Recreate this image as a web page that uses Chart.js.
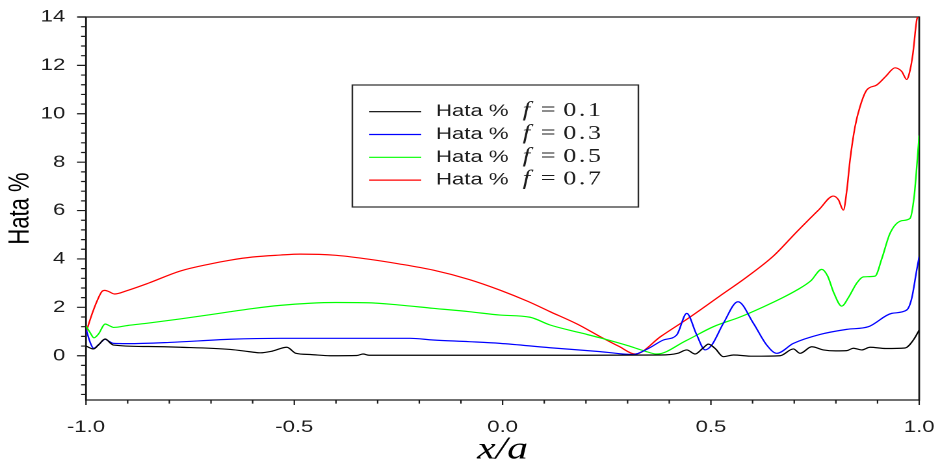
<!DOCTYPE html>
<html>
<head>
<meta charset="utf-8">
<script src="https://cdn.jsdelivr.net/npm/chart.js@4.4.1/dist/chart.umd.min.js"></script>
<style>
  html, body { margin: 0; padding: 0; background: #fff; }
</style>
</head>
<body>
<!-- the drawing surface is 723 px wide and shown at 940 px, so every glyph comes out wide -->
<canvas id="chart" width="723" height="466" style="display:block;width:940px;height:466px"></canvas>
<script>
// Hata % for f = 0.1
const xF01 = [-1.0, -0.982, -0.97, -0.954, -0.94, -0.934, -0.85, -0.774, -0.654, -0.6, -0.582, -0.553, -0.518,
  -0.496, -0.462, -0.414, -0.35, -0.335, -0.32, -0.2, 0.0, 0.2, 0.38, 0.42, 0.442, 0.462, 0.48, 0.494, 0.51,
  0.53, 0.554, 0.6, 0.666, 0.698, 0.714, 0.742, 0.77, 0.8, 0.826, 0.842, 0.862, 0.882, 0.92, 0.966, 0.986, 1.0];
const yF01 = [0.40, 0.28, 0.45, 0.69, 0.50, 0.44, 0.38, 0.35, 0.26, 0.15, 0.12, 0.19, 0.35,
  0.10, 0.05, 0.00, 0.01, 0.07, 0.02, 0.02, 0.02, 0.02, 0.03, 0.10, 0.24, 0.07, 0.30, 0.48, 0.30,
  -0.04, 0.03, -0.02, 0.00, 0.28, 0.10, 0.37, 0.24, 0.20, 0.21, 0.31, 0.24, 0.35, 0.30, 0.32, 0.65, 1.06];

// Hata % for f = 0.3
const xF03 = [-1.0, -0.99, -0.982, -0.97, -0.954, -0.945, -0.934, -0.9, -0.8, -0.654, -0.534, -0.4, -0.222,
  -0.167, -0.08, -0.006, 0.114, 0.234, 0.313, 0.35, 0.386, 0.418, 0.442, 0.465, 0.486, 0.502, 0.53, 0.565,
  0.602, 0.634, 0.658, 0.698, 0.762, 0.826, 0.878, 0.934, 0.97, 0.982, 0.994, 1.0];
const yF03 = [1.10, 0.55, 0.31, 0.45, 0.68, 0.60, 0.51, 0.50, 0.55, 0.68, 0.72, 0.72, 0.72,
  0.65, 0.58, 0.51, 0.33, 0.17, 0.05, 0.30, 0.65, 0.86, 1.75, 0.90, 0.24, 0.44, 1.34, 2.23,
  1.34, 0.44, 0.10, 0.51, 0.88, 1.09, 1.20, 1.75, 1.89, 2.37, 3.54, 4.09];

// Hata % for f = 0.5
const xF05 = [-1.0, -0.99, -0.981, -0.97, -0.954, -0.945, -0.934, -0.9, -0.85, -0.774, -0.7, -0.654, -0.6,
  -0.534, -0.462, -0.4, -0.326, -0.25, -0.167, -0.08, -0.006, 0.066, 0.114, 0.186, 0.234, 0.3, 0.34, 0.37,
  0.44, 0.506, 0.57, 0.626, 0.67, 0.706, 0.74, 0.766, 0.78, 0.795, 0.814, 0.83, 0.85, 0.866, 0.894, 0.91,
  0.93, 0.958, 0.978, 0.988, 0.995, 1.0];
const yF05 = [1.23, 0.95, 0.74, 0.90, 1.31, 1.25, 1.17, 1.25, 1.35, 1.52, 1.70, 1.82, 1.95,
  2.08, 2.17, 2.20, 2.19, 2.10, 1.96, 1.82, 1.68, 1.59, 1.27, 0.95, 0.74, 0.42, 0.20, 0.07,
  0.62, 1.20, 1.60, 2.02, 2.38, 2.71, 3.10, 3.57, 3.30, 2.60, 2.05, 2.40, 3.00, 3.26, 3.29, 4.00,
  5.06, 5.58, 5.68, 6.60, 8.00, 9.10];

// Hata % for f = 0.7
const xF07 = [-1.0, -0.99, -0.975, -0.962, -0.955, -0.945, -0.932, -0.9, -0.85, -0.774, -0.7, -0.654, -0.6,
  -0.534, -0.486, -0.4, -0.326, -0.25, -0.167, -0.08, -0.006, 0.06, 0.114, 0.18, 0.234, 0.28, 0.318,
  0.38, 0.45, 0.52, 0.586, 0.65, 0.706, 0.76, 0.794, 0.806, 0.818, 0.826, 0.834, 0.846, 0.858, 0.874,
  0.898, 0.92, 0.942, 0.958, 0.97, 0.978, 0.985, 0.994, 1.0];
const yF07 = [0.95, 1.50, 2.20, 2.65, 2.70, 2.65, 2.55, 2.70, 3.00, 3.50, 3.80, 3.95, 4.08,
  4.16, 4.20, 4.15, 4.00, 3.80, 3.54, 3.15, 2.71, 2.25, 1.82, 1.30, 0.79, 0.38, 0.07,
  0.80, 1.60, 2.45, 3.25, 4.12, 5.12, 6.05, 6.60, 6.45, 6.02, 6.80, 8.09, 9.47, 10.30, 10.98,
  11.19, 11.55, 11.90, 11.75, 11.42, 11.80, 12.50, 13.87, 14.10];

const fValues = ['0.1', '0.3', '0.5', '0.7'];
const lineColors = ['#000000', '#0000ff', '#00ff00', '#ff0000'];
const xLabelled = [-1, -0.5, 0, 0.5, 1];
const yLabelled = [0, 2, 4, 6, 8, 10, 12, 14];

const series = [[xF01, yF01], [xF03, yF03], [xF05, yF05], [xF07, yF07]];

const AXIS_COLOR = '#1a1a1a';
const TEXT_COLOR = '#1c1c1c';

// frame round the plot area plus the tick marks (outside ticks, longer on labelled y values)
const frameAndTicks = {
  id: 'frameAndTicks',
  beforeDatasetsDraw(chart) {
    const { ctx, chartArea: a, scales } = chart;
    ctx.save();
    ctx.strokeStyle = AXIS_COLOR;

    ctx.lineWidth = 1.3;
    ctx.beginPath();
    ctx.moveTo(a.left - 6, a.top); ctx.lineTo(a.right, a.top);
    ctx.moveTo(a.left, a.bottom); ctx.lineTo(a.right, a.bottom);
    ctx.stroke();
    ctx.lineWidth = 1.4;
    ctx.beginPath();
    ctx.moveTo(a.left, a.top); ctx.lineTo(a.left, a.bottom + 0.6);
    ctx.moveTo(a.right, a.top - 0.6); ctx.lineTo(a.right, a.bottom + 0.6);
    ctx.stroke();

    ctx.lineWidth = 1.2;
    ctx.beginPath();
    scales.y.ticks.forEach(t => {
      const py = scales.y.getPixelForValue(t.value);
      const len = yLabelled.includes(t.value) ? 7 : 3.8;
      ctx.moveTo(a.left - len, py); ctx.lineTo(a.left, py);
    });
    ctx.stroke();
    ctx.lineWidth = 1.1;
    ctx.beginPath();
    scales.x.ticks.forEach(t => {
      const px = scales.x.getPixelForValue(t.value);
      const len = xLabelled.includes(t.value) ? 5 : 3.6;
      ctx.moveTo(px, a.bottom); ctx.lineTo(px, a.bottom + len);
    });
    ctx.stroke();
    ctx.restore();
  }
};

// boxed legend inside the plot: sample line, "Hata %", then "f = value"
const legendBox = {
  id: 'legendBox',
  afterDatasetsDraw(chart) {
    const { ctx } = chart;
    const box = { left: 271, top: 85, right: 491, bottom: 207 };
    ctx.save();
    ctx.fillStyle = '#fff';
    ctx.fillRect(box.left, box.top, box.right - box.left, box.bottom - box.top);
    ctx.strokeStyle = '#2a2a2a';
    ctx.lineWidth = 1.2;
    ctx.strokeRect(box.left, box.top, box.right - box.left, box.bottom - box.top);

    chart.data.datasets.forEach((ds, i) => {
      const y = 111.7 + i * 22.8;
      ctx.strokeStyle = ds.borderColor;
      ctx.lineWidth = 1.2;
      ctx.beginPath();
      ctx.moveTo(284, y); ctx.lineTo(324, y);
      ctx.stroke();

      ctx.fillStyle = TEXT_COLOR;
      ctx.textBaseline = 'alphabetic';
      ctx.textAlign = 'left';
      ctx.font = '17px "Liberation Sans", Arial, sans-serif';
      ctx.fillText('Hata %', 335.4, y + 4.5);
      ctx.font = 'italic 21px "Liberation Serif", "Times New Roman", serif';
      ctx.fillText('f', 402, y + 4.5);
      ctx.font = '20px "Liberation Serif", "Times New Roman", serif';
      ctx.fillText('=', 416, y + 4.5);
      ctx.letterSpacing = '2px';
      ctx.fillText(ds.fValue, 433.3, y + 4.5);
      ctx.letterSpacing = '0px';
    });
    ctx.restore();
  }
};

const tickFont = { family: '"Liberation Sans", Arial, sans-serif', size: 17 };

const canvas = document.getElementById('chart');
new Chart(canvas, {
  type: 'line',
  data: {
    datasets: series.map(([xs, ys], i) => ({
      label: `Hata % f = ${fValues[i]}`,
      fValue: fValues[i],
      data: xs.map((x, k) => ({ x, y: ys[k] })),
      borderColor: lineColors[i],
      borderWidth: 1.2,
      pointRadius: 0,
      fill: false,
      cubicInterpolationMode: 'monotone'
    }))
  },
  options: {
    responsive: false,
    devicePixelRatio: 2,
    animation: false,
    layout: { padding: { top: 17, right: 16, left: 0, bottom: 0 } },
    plugins: {
      legend: { display: false },
      tooltip: { enabled: false }
    },
    scales: {
      x: {
        type: 'linear',
        min: -1,
        max: 1,
        grid: { display: false, drawTicks: false },
        border: { display: false },
        afterBuildTicks: (scale) => {
          const ticks = [];
          for (let i = -10; i <= 10; i++) ticks.push({ value: i / 10 });
          scale.ticks = ticks;
        },
        afterFit: (scale) => {
          scale.height = 66;
          scale.paddingLeft = 0;
          scale.paddingRight = 0;
        },
        ticks: {
          autoSkip: false,
          maxRotation: 0,
          minRotation: 0,
          padding: 17,
          color: TEXT_COLOR,
          font: tickFont,
          callback: (v) => xLabelled.includes(v) ? v.toFixed(1) : ''
        },
        title: {
          display: true,
          text: 'x/a',
          color: '#000',
          font: { family: '"Liberation Serif", "Times New Roman", serif', style: 'italic', size: 32, lineHeight: 1 },
          padding: { top: 0, bottom: 0 }
        }
      },
      y: {
        type: 'linear',
        min: -1.83,
        max: 14,
        grid: { display: false, drawTicks: false },
        border: { display: false },
        afterBuildTicks: (scale) => {
          const ticks = [];
          for (let i = -4; i <= 35; i++) ticks.push({ value: Math.round(i * 4) / 10 });
          scale.ticks = ticks;
        },
        afterFit: (scale) => {
          scale.width = 66.15;
          scale.paddingTop = 0;
          scale.paddingBottom = 0;
        },
        ticks: {
          autoSkip: false,
          padding: 16,
          color: TEXT_COLOR,
          font: tickFont,
          callback: (v) => yLabelled.includes(v) ? String(v) : ''
        },
        title: {
          display: true,
          text: 'Hata %',
          color: '#000',
          font: { family: '"Liberation Sans", Arial, sans-serif', size: 22, lineHeight: 1.2 },
          padding: { top: 2.8, bottom: 0 }
        }
      }
    }
  },
  plugins: [frameAndTicks, legendBox]
});
// keep the wide on-screen size after Chart.js has sized the backing store
canvas.style.width = '940px';
canvas.style.height = '466px';
</script>
</body>
</html>
